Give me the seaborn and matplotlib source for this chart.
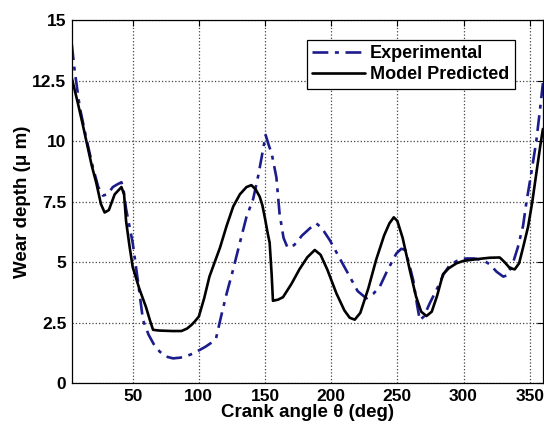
import numpy as np
import pandas as pd
import seaborn as sns
import matplotlib
matplotlib.use("Agg")
import matplotlib.pyplot as plt

# crank angle (deg) / wear depth (um)
exp_angle = [4, 6.2, 10, 15, 20, 24, 27.5, 31, 35, 38, 41.5, 43, 45, 47.5, 50, 54, 57.8, 62, 66,
             70.4, 75, 80.5, 86, 91, 95.6, 100, 105, 109, 113, 117, 121, 125.8, 131, 136, 141,
             145, 148, 150.5, 153, 155, 158.6, 161, 164, 167, 172, 178, 184, 188.8, 193, 199,
             206, 214, 220, 226.6, 232, 236.7, 242, 249.3, 253, 256, 259, 262, 265, 267, 270,
             274.5, 280, 285, 289.6, 295, 302, 308, 314.8, 320, 325, 330, 333, 337, 341, 345,
             347.6, 351, 355, 358, 360]
exp_wear = [14.0, 12.9, 11.4, 10.1, 8.9, 8.1, 7.75, 7.8, 8.1, 8.2, 8.3, 8.0, 7.2, 6.5, 5.8, 4.2,
            2.6, 2.0, 1.6, 1.3, 1.1, 1.02, 1.05, 1.12, 1.22, 1.35, 1.5, 1.65, 1.85, 2.8, 3.7,
            4.67, 5.8, 6.87, 7.6, 8.6, 9.5, 10.25, 9.8, 9.5, 8.5, 7.0, 6.0, 5.6, 5.7, 6.1, 6.4,
            6.6, 6.4, 5.9, 5.2, 4.4, 3.8, 3.5, 3.7, 3.98, 4.6, 5.36, 5.55, 5.5, 4.9, 4.25, 3.2,
            2.6, 2.75, 3.3, 3.9, 4.5, 4.88, 5.05, 5.15, 5.15, 5.08, 4.9, 4.6, 4.4, 4.45, 4.9,
            5.6, 6.5, 7.5, 8.6, 10.0, 11.4, 12.4]

model_angle = [4, 8, 12, 15, 19, 22.6, 26, 28.8, 32, 36.4, 41.5, 43.5, 45, 47.5, 50, 55, 60, 63,
               65.4, 70, 80, 86.8, 91, 94.4, 97, 100, 104, 108, 112, 116, 121, 126, 131, 136,
               139.7, 143, 146, 148, 150, 152, 153.5, 155, 156, 160, 163.6, 170, 176, 182,
               187.6, 192, 197, 204, 210, 214, 217.8, 222, 228, 234, 240, 244, 247.3, 250, 254,
               259.4, 264, 268, 272, 276, 280, 284.5, 289, 294.7, 300, 307, 314.8, 320, 327.4,
               331, 335, 338.7, 342, 345, 348.8, 352, 355, 358, 360]
model_wear = [12.6, 11.7, 10.75, 10.0, 9.0, 8.25, 7.4, 7.05, 7.15, 7.8, 8.1, 7.8, 6.7, 5.7, 4.8,
              3.9, 3.15, 2.6, 2.2, 2.17, 2.15, 2.15, 2.25, 2.4, 2.55, 2.75, 3.5, 4.4, 5.0, 5.6,
              6.5, 7.3, 7.8, 8.1, 8.18, 8.0, 7.7, 7.35, 6.8, 6.2, 5.8, 4.5, 3.4, 3.45, 3.55, 4.1,
              4.7, 5.2, 5.5, 5.3, 4.7, 3.7, 3.0, 2.7, 2.62, 2.9, 3.9, 5.1, 6.1, 6.6, 6.85, 6.7,
              6.0, 4.67, 3.6, 2.95, 2.77, 2.95, 3.6, 4.5, 4.75, 4.95, 5.05, 5.1, 5.15, 5.18,
              5.19, 5.0, 4.75, 4.7, 4.95, 5.6, 6.46, 7.5, 8.66, 9.8, 10.5]

xticks = [50, 100, 150, 200, 250, 300, 350]
yticks = [0, 2.5, 5, 7.5, 10, 12.5, 15]
ytick_labels = ["0", "2.5", "5", "7.5", "10", "12.5", "15"]

df = pd.concat([
    pd.DataFrame({"angle": exp_angle, "wear": exp_wear, "series": "Experimental"}),
    pd.DataFrame({"angle": model_angle, "wear": model_wear, "series": "Model Predicted"}),
])

sns.set_style("white")
plt.rcParams["font.family"] = ["Liberation Sans", "DejaVu Sans"]
plt.rcParams["font.weight"] = "bold"
plt.rcParams["text.color"] = "black"
plt.rcParams["axes.labelcolor"] = "black"
plt.rcParams["xtick.color"] = "black"
plt.rcParams["ytick.color"] = "black"

fig = plt.figure(figsize=(5.44, 4.28), dpi=100)
ax = fig.add_axes([0.132, 0.105, 0.866, 0.848])

sns.lineplot(data=df, x="angle", y="wear", hue="series", style="series",
             palette={"Experimental": "#1c1c8c", "Model Predicted": "black"},
             dashes={"Experimental": (6, 2.5, 1.5, 2.5), "Model Predicted": ""},
             linewidth=1.9, sort=False, estimator=None, ax=ax)

ax.set_xlim(4, 360)
ax.set_ylim(0, 15)
ax.set_xticks(xticks)
ax.set_yticks(yticks)
ax.set_yticklabels(ytick_labels)
ax.tick_params(direction="in", length=4, top=True, right=True, labelsize=12.5, width=0.8, pad=4,
               colors="black")
for lab in ax.get_xticklabels() + ax.get_yticklabels():
    lab.set_fontweight("bold")
ax.grid(True, linestyle=":", color="#444444", linewidth=0.9)
for sp in ax.spines.values():
    sp.set_color("black")
    sp.set_linewidth(0.9)

ax.set_xlabel("Crank angle θ (deg)", fontsize=13.5, fontweight="bold", labelpad=0, color="black")
ax.set_ylabel("Wear depth (μ m)", fontsize=13.5, fontweight="bold", labelpad=1, color="black")

leg = ax.legend(loc="upper right", bbox_to_anchor=(0.94, 0.945), fontsize=13,
                handlelength=2.9, handletextpad=0.3, borderpad=0.3, labelspacing=0.2,
                fancybox=False, framealpha=1, edgecolor="black", borderaxespad=0)
leg.get_frame().set_linewidth(0.9)
for t in leg.get_texts():
    t.set_fontweight("bold")
    t.set_color("black")

fig.savefig("out.png", dpi=100)
